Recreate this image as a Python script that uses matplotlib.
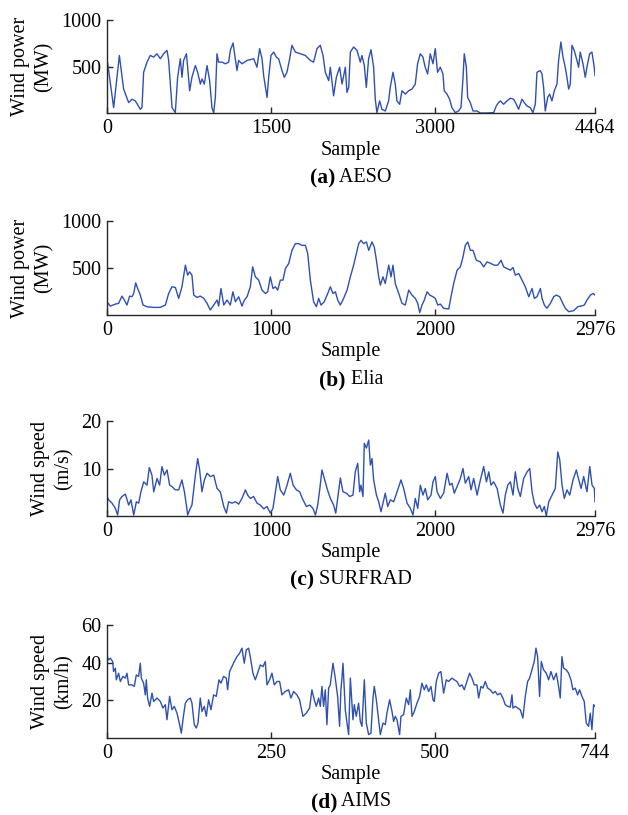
import matplotlib
matplotlib.use("Agg")
import matplotlib.pyplot as plt

plt.rcParams['font.family'] = ['Liberation Serif', 'DejaVu Serif']

LINE = '#3050B0'
AX = '#262626'

# ---------------- data ----------------
aeso_x = [0, 61, 113, 152, 198, 229, 259, 305, 320, 335, 366, 396, 427, 457, 488, 518, 549, 564, 595, 625,
          646, 671, 686, 701, 726, 738, 756, 777, 808, 829, 854, 869, 890, 915, 939, 960, 976, 991, 1006, 1021,
          1052, 1082, 1113, 1128, 1153, 1174, 1189, 1204, 1235, 1281, 1342, 1372, 1396, 1418, 1433, 1464, 1479,
          1500, 1525, 1549, 1570, 1601, 1622, 1646, 1671, 1692, 1723, 1768, 1814, 1860, 1890, 1921, 1951, 1976,
          1997, 2028, 2043, 2073, 2098, 2128, 2150, 2180, 2195, 2211, 2226, 2256, 2287, 2317, 2332, 2354, 2372,
          2393, 2415, 2439, 2454, 2469, 2494, 2515, 2546, 2576, 2591, 2616, 2637, 2652, 2677, 2698, 2729, 2759,
          2790, 2820, 2841, 2866, 2890, 2911, 2933, 2957, 2982, 3003, 3024, 3049, 3073, 3085, 3110, 3134, 3155,
          3186, 3216, 3238, 3256, 3268, 3287, 3299, 3323, 3348, 3384, 3415, 3476, 3537, 3561, 3582, 3598, 3628,
          3659, 3689, 3720, 3744, 3765, 3796, 3817, 3841, 3872, 3896, 3918, 3933, 3963, 3979, 3994, 4009, 4031,
          4049, 4070, 4092, 4116, 4131, 4152, 4171, 4192, 4207, 4223, 4238, 4253, 4274, 4299, 4314, 4329, 4354,
          4375, 4390, 4415, 4436, 4457, 4464]
aeso_y = [583, 58, 619, 257, 112, 148, 130, 40, 58, 438, 547, 619, 601, 637, 583, 637, 673, 565, 58, 4,
          384, 583, 384, 565, 637, 492, 239, 384, 510, 438, 311, 366, 311, 510, 348, 58, 0, 167, 637, 547,
          547, 529, 547, 673, 753, 583, 456, 565, 529, 565, 583, 492, 692, 583, 402, 167, 384,
          619, 655, 601, 583, 456, 384, 438, 583, 728, 655, 637, 619, 565, 547, 692, 728, 619,
          438, 348, 492, 185, 384, 492, 311, 492, 221, 275, 655, 710, 673, 547, 619, 510, 275,
          583, 681, 492, 148, 4, 130, 40, 22, 130, 275, 438, 311, 130, 94, 239, 203, 239,
          257, 311, 529, 637, 601, 492, 420, 637, 529, 692, 438, 492, 420, 239, 203, 148, 58,
          4, 22, 58, 366, 637, 492, 167, 112, 22, 22, 0, 0, 4, 76, 112, 130, 94,
          130, 159, 148, 94, 40, 148, 112, 76, 58, 4, 94, 438, 456, 420, 275, 22, 167,
          203, 130, 239, 311, 565, 764, 601, 492, 384, 257, 311, 728, 673, 565, 492, 655, 529,
          384, 492, 637, 655, 492, 402]

elia_x = [0, 20, 51, 71, 91, 106, 122, 138, 152, 163, 175, 187, 203, 220, 244, 285, 325, 356, 376, 396,
          417, 437, 457, 478, 492, 504, 518, 529, 549, 569, 590, 610, 630, 651, 671, 681, 695, 712, 732, 752,
          768, 783, 803, 823, 838, 854, 874, 888, 905, 925, 945, 966, 980, 996, 1012, 1027, 1041, 1057, 1073,
          1088, 1108, 1128, 1149, 1169, 1189, 1210, 1224, 1240, 1260, 1277, 1291, 1305, 1325, 1346, 1362, 1378,
          1393, 1407, 1423, 1443, 1464, 1484, 1504, 1521, 1535, 1549, 1565, 1582, 1596, 1616, 1630, 1643, 1657,
          1667, 1683, 1697, 1718, 1732, 1744, 1758, 1779, 1799, 1819, 1840, 1860, 1880, 1895, 1907, 1921, 1935,
          1952, 1968, 1988, 2002, 2017, 2033, 2053, 2084, 2094, 2114, 2135, 2155, 2171, 2185, 2200, 2216, 2232,
          2252, 2277, 2297, 2318, 2342, 2362, 2383, 2403, 2419, 2440, 2460, 2476, 2490, 2511, 2531, 2551, 2572,
          2592, 2606, 2622, 2643, 2653, 2667, 2683, 2704, 2724, 2740, 2761, 2775, 2795, 2816, 2846, 2871, 2891,
          2911, 2927, 2948, 2964, 2976]
elia_y = [141, 95, 116, 124, 201, 159, 106, 201, 194, 229, 342, 282, 212, 106, 88, 81, 81, 106, 229, 300,
          293, 177, 300, 530, 424, 459, 424, 212, 187, 201, 177, 124, 53, 106, 159, 95, 282, 106, 159, 106,
          247, 141, 194, 95, 159, 194, 300, 512, 406, 371, 265, 229, 247, 406, 282, 300, 265, 371, 371,
          494, 547, 688, 759, 759, 741, 741, 653, 371, 141, 88, 177, 106, 141, 229, 300, 229,
          247, 159, 106, 177, 265, 406, 530, 653, 759, 794, 759, 777, 688, 777, 724, 583, 406,
          318, 406, 335, 530, 406, 530, 335, 229, 124, 106, 265, 212, 177, 124, 25, 106, 159,
          247, 212, 194, 177, 106, 116, 71, 64, 159, 335, 477, 512, 618, 741, 777, 688, 688,
          583, 565, 512, 565, 547, 530, 530, 583, 512, 494, 477, 505, 424, 441, 371, 300, 194,
          282, 177, 194, 282, 177, 106, 71, 124, 194, 212, 194, 141, 71, 35, 46, 88, 95,
          106, 159, 212, 229, 212]

surf_x = [0, 10, 31, 51, 65, 77, 91, 112, 132, 146, 163, 179, 193, 207, 224, 244, 258, 274, 285, 305,
          321, 335, 350, 366, 382, 396, 417, 437, 457, 472, 484, 492, 504, 518, 539, 553, 565, 579, 594, 610,
          630, 651, 671, 691, 712, 728, 742, 762, 783, 803, 823, 844, 858, 874, 894, 915, 935, 956, 976, 996,
          1012, 1027, 1041, 1057, 1078, 1098, 1118, 1135, 1155, 1175, 1195, 1216, 1236, 1256, 1271, 1285, 1297,
          1311, 1325, 1342, 1362, 1382, 1395, 1407, 1423, 1439, 1460, 1480, 1500, 1514, 1529, 1541, 1549, 1561,
          1569, 1582, 1596, 1606, 1616, 1626, 1643, 1657, 1671, 1683, 1697, 1712, 1728, 1748, 1769, 1793, 1809,
          1830, 1850, 1866, 1880, 1895, 1911, 1927, 1941, 1956, 1976, 1988, 2002, 2013, 2033, 2053, 2074, 2090,
          2104, 2118, 2135, 2155, 2171, 2185, 2206, 2220, 2236, 2257, 2277, 2297, 2314, 2328, 2342, 2358, 2379,
          2399, 2415, 2429, 2444, 2460, 2476, 2490, 2505, 2521, 2541, 2562, 2578, 2592, 2606, 2622, 2639, 2653,
          2667, 2679, 2694, 2714, 2734, 2749, 2761, 2775, 2789, 2805, 2822, 2842, 2862, 2877, 2891, 2907, 2927,
          2944, 2958, 2972, 2976]
surf_y = [4.1, 3.4, 2.7, 1.6, 0.2, 3.4, 4.1, 4.6, 2.3, 3.4, 0.2, 3.0, 2.7, 5.1, 7.2, 6.5, 10.2, 8.6, 5.1, 7.9,
          6.5, 10.4, 8.6, 9.7, 6.5, 6.2, 5.5, 5.5, 7.6, 5.1, 2.3, 0.2, 1.3, 2.3, 8.6, 12.1, 9.7, 5.1, 7.6, 9.0,
          8.3, 8.6, 5.8, 5.1, 2.0, 0.6, 3.0, 2.7, 3.0, 2.5, 3.7, 5.5, 4.4, 3.7, 4.1, 2.7, 2.3, 1.5, 2.0, 0.6,
          1.6, 5.1, 8.3, 5.5, 4.4, 6.5, 9.0, 6.5, 5.5, 5.1, 3.4, 2.0, 2.3, 1.6, 0.2, 2.3, 5.5,
          9.7, 7.9, 5.8, 3.7, 2.3, 0.6, 3.7, 8.0, 5.1, 4.8, 4.1, 4.4, 9.3, 11.1, 5.1, 6.5, 4.1,
          15.3, 14.3, 16.0, 10.7, 12.1, 7.6, 4.4, 3.0, 0.9, 2.7, 4.8, 2.0, 3.4, 3.0, 5.1, 7.6, 5.8,
          2.7, 1.6, 0.2, 3.7, 1.6, 6.5, 4.4, 5.8, 3.4, 4.4, 7.2, 8.3, 5.1, 3.7, 4.8, 9.0, 6.5,
          6.9, 4.8, 6.2, 7.9, 10.0, 6.9, 8.3, 5.5, 7.9, 4.4, 7.6, 10.4, 7.2, 9.3, 6.5, 7.2, 5.8,
          2.3, 0.6, 4.4, 6.5, 7.2, 4.4, 9.3, 5.8, 4.1, 7.9, 9.3, 10.0, 5.1, 2.7, 1.6, 2.3, 0.9,
          2.0, 0.0, 3.0, 4.4, 5.8, 13.5, 11.8, 6.5, 3.7, 5.5, 4.4, 7.6, 9.7, 7.6, 5.8, 8.3, 5.1,
          10.4, 6.5, 5.8, 3.0]

aims_x = [0, 2.5, 5, 8.6, 10, 12.7, 14.2, 17.7, 20.3, 24.3, 27.9, 30.4, 33, 38, 41.6, 44.7, 48.2, 50.8, 52.3,
          55.8, 58.4, 59.9, 61.9, 65, 68.6, 71.1, 76.2, 81.3, 85.3, 88.9, 91.4, 95.5, 99, 102.6, 106.7, 110.7,
          113.3, 115.8, 119.4, 122.9, 127, 129.5, 133.1, 136.1, 138.7, 142.2, 144.8, 148.3, 151.4, 154.9, 158.5,
          162.5, 166.6, 170.7, 173.7, 177.8, 181.9, 183.9, 186.9, 190.5, 194.1, 198.1, 202.2, 205.7, 209.3,
          212.3, 215.9, 218.4, 222.5, 226.1, 229.6, 233.7, 237.8, 241.3, 243.9, 247.9, 251.5, 255, 259.1, 263.2,
          266.7, 271.8, 276.9, 280.4, 284.5, 289.6, 293.6, 298.7, 303.8, 308.9, 312.4, 316, 319.1, 322.6, 325.2,
          327.7, 330.2, 332.8, 335.3, 337.9, 340.4, 344.5, 348, 351.6, 354.6, 356.6, 358, 359.8, 363.3, 365.9,
          368.4, 371, 375, 377, 380, 383.6, 386.2, 388.7, 392.3, 395.3, 398.9, 402.4, 405.5, 407.5, 410.6,
          414.1, 416.7, 420.7, 424.3, 426.8, 430.9, 434.5, 437, 439.5, 442.1, 446.1, 448.2, 452.2, 456.3, 459.9,
          462.4, 465, 468.5, 472.6, 476.6, 480.2, 483.7, 486.8, 490.3, 493.9, 497, 499, 502, 505.6, 509.1,
          513.2, 517.3, 520.8, 525.9, 529.5, 533.5, 537.6, 541.2, 544.7, 548.8, 552.8, 556.4, 560, 564, 566.6,
          570.1, 573.2, 576.7, 580.3, 584.3, 588.4, 592, 595.5, 599.6, 603.6, 607.2, 610.8, 614.8, 617.4, 618.9,
          622.5, 626, 630.1, 634.1, 637.7, 641.3, 644.3, 647.9, 651.4, 654, 656.5, 659.5, 662.1, 665.6, 669.7,
          673.3, 676.8, 680.9, 685, 688.5, 691, 693.6, 696.1, 700.2, 703.7, 707.3, 710.3, 713.9, 717.5, 720.5,
          724.1, 727.6, 730.7, 734.2, 736.8, 739.3, 741.9, 744]
aims_y = [43.2, 41.5, 42.4, 40.6, 35.3, 37.1, 30.9, 34.4, 30.0, 32.7, 31.8, 34.4, 28.2, 28.2, 27.4, 33.5, 32.7, 39.7, 31.8,
          29.1, 22.9, 30.9, 21.2, 16.8, 23.8, 19.4, 21.2, 19.4, 15.9, 17.7, 9.7, 22.1, 15.0, 16.8, 13.2, 7.1,
          2.6, 9.7, 18.5, 20.3, 21.2, 18.5, 7.1, 5.3, 7.9, 21.2, 14.1, 16.8, 11.5, 20.3, 15.0,
          22.9, 22.1, 30.9, 29.1, 32.7, 31.8, 25.6, 35.3, 37.9, 40.6, 43.2, 45.0, 47.7, 39.7,
          46.8, 47.7, 43.2, 34.4, 30.9, 34.4, 38.8, 37.9, 40.6, 28.2, 30.9, 34.4, 28.2, 30.0, 30.0,
          22.9, 24.7, 25.6, 21.2, 24.7, 22.9, 20.3, 11.5, 13.2, 15.9, 25.6, 20.3, 16.8, 21.2, 16.8,
          27.4, 16.8, 25.6, 7.1, 26.5, 28.2, 39.7, 31.8, 22.1, 6.2, 25.6, 30.9, 39.7, 15.0, 7.9,
          1.8, 31.8, 9.7, 17.7, 11.5, 18.5, 8.8, 6.2, 30.9, 7.9, 1.8, 2.6, 21.2, 27.4, 20.3,
          9.7, 1.8, 7.9, 7.1, 13.2, 20.3, 14.1, 8.8, 11.5, 9.7, 1.8, 11.5, 12.4, 21.2, 17.7,
          25.6, 11.5, 14.1, 18.5, 22.1, 29.1, 25.6, 28.2, 24.7, 27.4, 20.3, 19.4, 30.0, 34.4, 35.3,
          23.8, 30.9, 30.0, 31.8, 30.9, 30.0, 27.4, 28.2, 25.6, 30.0, 34.4, 31.8, 28.2, 28.2, 21.2,
          27.4, 26.5, 30.0, 26.5, 25.6, 23.8, 24.7, 22.9, 23.8, 21.2, 17.7, 16.8, 16.4, 22.9, 15.9,
          16.8, 15.9, 15.0, 10.6, 22.1, 30.0, 31.8, 36.2, 40.6, 47.7, 43.2, 22.1, 40.6, 36.2, 34.4,
          30.9, 35.3, 30.9, 34.4, 27.4, 21.2, 43.2, 37.1, 36.2, 34.4, 30.9, 25.6, 26.5, 22.9, 25.6,
          22.1, 19.4, 7.9, 6.2, 13.2, 4.4, 17.7, 16.8]

panels = [
    dict(x=aeso_x, y=aeso_y, xlim=4464, ylim=1000, xt=[0, 1500, 3000, 4464], yt=[500, 1000],
         ylab='Wind power\n(MW)', tag='(a)', name=' AESO', rect=[107, 20, 488, 93],
         sample_y=150, title_y=178, ylab_x=32),
    dict(x=elia_x, y=elia_y, xlim=2976, ylim=1000, xt=[0, 1000, 2000, 2976], yt=[500, 1000],
         ylab='Wind power\n(MW)', tag='(b)', name=' Elia', rect=[107, 221, 488, 94],
         sample_y=352, title_y=380, ylab_x=32),
    dict(x=surf_x, y=surf_y, xlim=2976, ylim=20, xt=[0, 1000, 2000, 2976], yt=[10, 20],
         ylab='Wind speed\n(m/s)', tag='(c)', name=' SURFRAD', rect=[107, 421, 488, 95],
         sample_y=552, title_y=580, ylab_x=52),
    dict(x=aims_x, y=aims_y, xlim=744, ylim=60, xt=[0, 250, 500, 744], yt=[20, 40, 60],
         ylab='Wind speed\n(km/h)', tag='(d)', name=' AIMS', rect=[107, 625, 488, 113],
         sample_y=775, title_y=802, ylab_x=52),
]

W, H = 628, 815
fig = plt.figure(figsize=(W / 100, H / 100), dpi=100)
FS = 14.5

titles = []
for p in panels:
    l, t, w, h = p['rect']
    ax = fig.add_axes([l / W, 1 - (t + h) / H, w / W, h / H])
    ax.plot(p['x'], p['y'], color=LINE, lw=1.0)
    ax.set_xlim(0, p['xlim'])
    ax.set_ylim(0, p['ylim'])
    ax.set_xticks(p['xt'])
    ax.set_yticks(p['yt'])
    ax.set_xticklabels([str(v) for v in p['xt']])
    ax.set_yticklabels([str(v) for v in p['yt']])
    for s in ['top', 'right']:
        ax.spines[s].set_visible(False)
    for s in ['left', 'bottom']:
        ax.spines[s].set_color(AX)
        ax.spines[s].set_linewidth(1.0)
    ax.tick_params(direction='in', length=4, width=1.0, color=AX, labelsize=FS, pad=4)
    ax.set_ylabel(p['ylab'], fontsize=FS, linespacing=1.3, va='center', ha='center')
    ax.yaxis.set_label_coords((p['ylab_x'] - l) / w, 0.5)
    fig.text(351 / W, 1 - p['sample_y'] / H, 'Sample', fontsize=FS, ha='center', va='center')
    t1 = fig.text(351 / W, 1 - p['title_y'] / H, p['tag'], fontsize=FS + 1, fontweight='bold',
                  ha='left', va='center')
    t2 = fig.text(351 / W, 1 - p['title_y'] / H, p['name'], fontsize=FS, ha='left', va='center')
    titles.append((t1, t2))

fig.canvas.draw()
r = fig.canvas.get_renderer()
for t1, t2 in titles:
    w1 = t1.get_window_extent(r).width
    w2 = t2.get_window_extent(r).width
    start = 351 - (w1 + w2) / 2
    x, y = t1.get_position()
    t1.set_position((start / W, y))
    t2.set_position(((start + w1) / W, y))

fig.savefig('out.png', dpi=100)
